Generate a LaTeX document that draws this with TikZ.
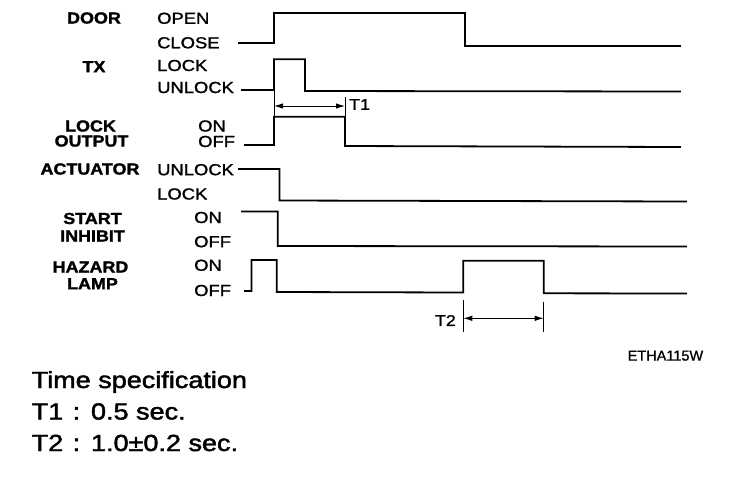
\documentclass[tikz,border=0pt]{standalone}
\usepackage{fontspec}
\setmainfont{Liberation Sans}
\newfontfamily\medfont{Liberation Sans}[FakeBold=1.2]
\newfontfamily\specfont{Liberation Sans}[FakeBold=1.8]
\newfontfamily\heavyfont{Liberation Sans Bold}[FakeBold=1.5]
\usetikzlibrary{arrows.meta}
\newcommand\BLab[1]{\scalebox{1.12}[1]{#1}}
\newcommand\RLab[1]{\scalebox{1.15}[1]{#1}}
\newcommand\SLab[1]{\scalebox{1.16}[1]{#1}}
\tikzset{
  sig/.style={line width=1.8pt, line join=miter, line cap=rect},
  ext/.style={line width=0.7pt},
  dimarrow/.style={line width=1pt, {Latex[length=9pt,width=5.5pt]}-{Latex[length=9pt,width=5.5pt]}},
  blab/.style={inner sep=0pt, anchor=center, font=\fontsize{16}{16}\heavyfont},
  rlab/.style={inner sep=0pt, anchor=west, font=\fontsize{16}{16}\medfont},
  tlab/.style={inner sep=0pt, font=\fontsize{15.5}{16}\medfont},
  spec/.style={inner sep=0pt, anchor=base west, font=\fontsize{23.3}{24}\specfont},
  code/.style={inner sep=0pt, anchor=west, font=\fontsize{14.5}{15}\medfont},
}
\begin{document}
\begin{tikzpicture}[x=1pt,y=-1pt]
\useasboundingbox (0,0) rectangle (752,488);
% left labels
\node[blab] (ldoor) at (94,18) {\BLab{DOOR}};
\node[blab] (ltx) at (94,66.7) {\BLab{TX}};
\node[blab] (llock) at (90.5,126) {\BLab{LOCK}};
\node[blab] (lout) at (91.5,141) {\BLab{OUTPUT}};
\node[blab] (lact) at (90,169) {\BLab{ACTUATOR}};
\node[blab] (lstart) at (92.5,218.5) {\BLab{START}};
\node[blab] (linh) at (92.5,236) {\BLab{INHIBIT}};
\node[blab] (lhaz) at (90.5,267) {\BLab{HAZARD}};
\node[blab] (llamp) at (92.5,283.7) {\BLab{LAMP}};
% state labels
\node[rlab] (sopen) at (157,18.3) {\RLab{OPEN}};
\node[rlab] (sclose) at (157,42.8) {\RLab{CLOSE}};
\node[rlab] (slock) at (157,65.5) {\RLab{LOCK}};
\node[rlab] (sunlock) at (157,87.5) {\RLab{UNLOCK}};
\node[rlab] (son1) at (198,126) {\RLab{ON}};
\node[rlab] (soff1) at (198,141.5) {\RLab{OFF}};
\node[rlab] (sunl2) at (157,169.7) {\RLab{UNLOCK}};
\node[rlab] (slock2) at (157,194) {\RLab{LOCK}};
\node[rlab] (son2) at (194,217.5) {\RLab{ON}};
\node[rlab] (soff2) at (194,241.7) {\RLab{OFF}};
\node[rlab] (son3) at (194,265.3) {\RLab{ON}};
\node[rlab] (soff3) at (194,290.5) {\RLab{OFF}};
% waveforms
\draw[sig, line width=2.2pt] (239,43.3) -- (274,43.3) -- (274,13.3) -- (465,13.3) -- (465,46) -- (680,46);
\draw[sig] (242,90) -- (274,90) -- (274,59.3) -- (305,59.3) -- (305,91) -- (680,91.5);
\draw[sig] (245,145) -- (274,145) -- (274,116.7) -- (345,116.7) -- (345,146) -- (680,147);
\draw[sig] (239,169) -- (279.5,169) -- (279.5,200.5) -- (686,201.5);
\draw[sig] (242,211.5) -- (277.7,211.5) -- (277.7,246) -- (686,246.5);
\draw[sig] (245,291) -- (251.5,291) -- (251.5,260) -- (276.7,260) -- (276.7,292) -- (463.3,292.5) -- (463.3,260.7) -- (543.7,260.7) -- (543.7,293.3) -- (686,293.5);
% T1 dimension
\coordinate (a1t) at (274,90);
\coordinate (a1b) at (274,117);
\coordinate (b1t) at (345,97);
\coordinate (b1b) at (345,117);
\coordinate (a1) at (274,106);
\coordinate (b1) at (345,106);
\draw[ext] (a1t) -- (a1b);
\draw[ext] (b1t) -- (b1b);
\draw[dimarrow] (a1) -- (b1);
\node[tlab, anchor=west] (t1) at (349,104.5) {\RLab{T1}};
% T2 dimension
\coordinate (a2t) at (463.3,300);
\coordinate (a2b) at (463.3,332);
\coordinate (b2t) at (543.7,301.7);
\coordinate (b2b) at (543.7,332);
\coordinate (a2) at (463.3,318.3);
\coordinate (b2) at (543.7,318.3);
\draw[ext] (a2t) -- (a2b);
\draw[ext] (b2t) -- (b2b);
\draw[dimarrow] (a2) -- (b2);
\node[tlab, anchor=east] (t2) at (456,320.5) {\RLab{T2}};
% code
\node[code] (code) at (627.5,355.7) {ETHA115W};
% specification
\node[spec] (sp0) at (31.5,388) {\SLab{Time specification}};
\node[spec] (sp1) at (31.5,419.5) {\SLab{T1\hspace{0.35em}:\hspace{0.4em}0.5 sec.}};
\node[spec] (sp2) at (31.5,451) {\SLab{T2\hspace{0.35em}:\hspace{0.4em}1.0±0.2 sec.}};
\end{tikzpicture}
\end{document}
